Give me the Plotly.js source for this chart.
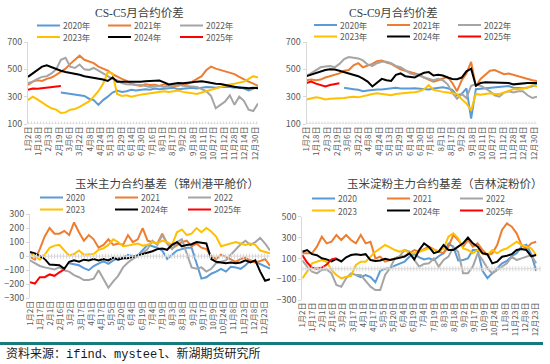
<!DOCTYPE html>
<html><head><meta charset="utf-8">
<script src="https://cdn.plot.ly/plotly-3.0.1.min.js"></script>
<style>html,body{margin:0;padding:0;background:#fff;}#chart{width:550px;height:364px;}</style>
</head><body><div id="chart"></div>
<script>
// ---------- DATA ----------
const titleC5 = "CS-C5月合约价差";
const titleC9 = "CS-C9月合约价差";
const titleJZ = "玉米主力合约基差（锦州港平舱价）";
const titleJL = "玉米淀粉主力合约基差（吉林淀粉价）";
const sourceText = "资料来源：ifind、mysteel、新湖期货研究所";

const namesTop = ["2020年","2021年","2022年","2023年","2024年","2025年"];
const namesBottom = ["2020","2021","2022","2023","2024年","2025年"];

const xLabelsTop = ["1月2日","1月18日","2月3日","2月19日","3月6日","3月22日","4月8日","4月24日","5月13日","5月29日","6月14日","6月30日","7月16日","8月1日","8月17日","9月2日","9月18日","10月11日","10月27日","11月12日","11月28日","12月14日","12月30日"];
const xLabelsBottom = ["1月2日","1月17日","2月1日","2月16日","3月2日","3月17日","4月1日","4月17日","5月5日","5月20日","6月4日","6月19日","7月4日","7月19日","8月3日","8月18日","9月2日","9月17日","10月9日","10月24日","11月8日","11月23日","12月8日","12月23日"];

const yTicksTop = [100,300,500,700];
const yTicksJZ = [-300,-200,-100,0,100,200,300];
const yTicksJL = [-300,-100,100,300,500];

// values sampled every 5 trading days (null = no data)
const c5_2020 = [null,null,null,null,null,null,null,330,325,320,318,310,305,285,275,240,275,300,330,345,335,340,350,345,350,355,350,360,355,360,360,365,355,360,360,365,360,365,370,368,365,370,372,370,365,372,360,345,360,370];
const c5_2021 = [385,410,420,415,430,440,460,480,505,540,570,600,570,555,545,520,505,490,465,445,430,415,395,385,378,390,385,388,378,390,380,378,380,390,395,410,430,450,495,520,505,495,490,480,465,445,425,410,395,380];
const c5_2022 = [400,410,430,445,450,470,500,570,585,520,510,535,500,495,510,490,465,450,430,420,400,390,388,390,385,378,370,375,378,370,375,380,388,380,378,375,370,355,340,305,215,240,265,310,240,300,270,205,195,250];
const c5_2023 = [275,300,280,255,235,215,205,180,185,205,210,225,245,265,300,340,395,480,470,320,305,310,300,310,315,320,325,330,335,340,335,340,345,335,330,320,320,330,340,350,360,370,385,390,395,400,410,430,450,440];
const c5_2024 = [445,470,500,520,530,515,500,490,480,475,470,460,450,445,440,435,425,415,440,410,412,410,410,408,410,412,415,420,418,405,390,395,400,398,400,405,410,412,408,400,395,392,385,380,372,365,365,362,365,362];
const c5_2025 = [350,360,358,362,362,365,370,378];

const c9_2020 = [null,null,null,null,null,null,null,null,365,358,355,350,340,345,350,352,352,355,360,365,360,358,360,362,358,355,352,360,365,368,362,350,310,320,360,140,355,358,360,362,368,372,375,378,365,362,362,368,375,395];
const c9_2021 = [420,425,420,425,440,450,460,470,490,495,530,545,515,525,540,560,565,550,540,520,500,490,480,470,460,440,425,410,420,430,445,400,340,420,470,555,375,430,460,490,495,480,465,470,460,450,435,425,420,415];
const c9_2022 = [450,470,495,515,520,525,515,540,575,590,585,580,565,535,525,545,555,555,545,525,515,495,470,460,455,440,430,420,430,420,390,330,285,320,290,380,390,380,360,340,310,300,330,340,330,340,340,310,290,300];
const c9_2023 = [280,290,295,290,280,285,285,285,290,295,300,295,305,315,320,325,320,315,310,320,325,330,330,332,340,355,385,350,340,335,330,325,320,280,250,200,320,315,320,325,320,320,330,345,355,355,360,365,385,375];
const c9_2024 = [450,462,470,485,495,500,498,490,480,470,460,450,432,410,375,405,430,420,415,460,470,450,445,440,460,475,480,455,460,455,440,430,428,440,485,505,380,400,405,405,400,405,405,400,390,395,400,400,400,400];
const c9_2025 = [400,410,395,385,375,385,390,398];

const jz_2020 = [null,null,null,null,null,null,null,null,-50,-60,-65,-85,-100,-70,-50,-35,-55,-30,-15,-10,10,0,5,40,80,70,60,40,-20,10,40,50,60,60,-50,-160,-150,-125,-110,-90,-110,-75,-80,-90,-65,-30,-40,-55,-75,-88];
const jz_2021 = [-5,-25,50,140,200,160,160,180,150,240,170,110,150,120,60,80,120,80,90,80,150,100,120,200,110,100,90,160,90,55,80,100,110,70,90,60,50,0,-20,10,-5,-20,-40,-20,-10,-35,-45,-35,-20,-70];
const jz_2022 = [-30,-50,-70,-80,-90,-95,-80,-100,-110,-135,-150,-170,-170,-160,-100,-160,-225,-180,-140,-80,-45,-20,0,20,50,110,80,150,90,50,100,120,20,-80,-90,-80,-110,-90,-50,-40,-30,10,50,85,110,80,100,130,90,40];
const jz_2023 = [20,-5,-25,10,60,75,80,40,5,15,40,10,10,15,45,55,80,120,100,70,75,80,90,75,80,100,90,110,100,80,170,190,150,160,200,170,200,175,140,70,80,95,100,90,80,90,80,40,30,20];
const jz_2024 = [30,20,0,-20,-60,-60,-65,-90,-40,-30,-40,-25,-30,-20,-30,-20,-30,-10,-25,-15,-15,-5,5,15,20,35,50,55,45,80,100,70,80,85,100,95,90,-20,-40,-45,-50,-45,-50,-45,-30,-45,-30,-110,-175,-165];
const jz_2025 = [-185,-195,-150,-150,-130,-140,-115,-95];

const jl_2020 = [null,null,null,null,null,null,null,null,null,null,null,-60,-80,-60,-80,-130,-20,0,5,30,50,68,116,140,110,90,100,84,120,150,240,212,80,84,100,180,180,-20,-90,-44,4,52,75,120,150,212,230,140,-20];
const jl_2021 = [150,148,148,212,308,244,260,324,276,324,276,244,324,244,260,100,116,68,84,100,116,122,148,180,164,186,212,186,164,148,212,324,276,212,276,212,244,180,132,148,228,372,436,404,340,228,196,244,260];
const jl_2022 = [80,20,-28,-44,-12,-6,-44,-156,-172,-92,-44,-60,-60,-114,-172,-204,-204,-60,4,100,122,180,164,84,20,46,52,100,20,84,116,206,164,-44,-44,20,148,84,4,-44,-12,20,52,116,84,100,116,132,52];
const jl_2023 = [-92,-28,52,68,84,68,-12,-60,-92,-76,-70,36,68,68,116,164,196,228,206,180,164,180,148,148,164,180,196,180,164,196,308,340,292,196,180,148,180,148,132,180,148,180,196,228,260,228,212,196,132];
const jl_2024 = [164,180,140,130,100,90,70,95,70,110,132,140,132,140,84,75,80,95,85,95,110,116,148,90,180,244,210,150,165,228,180,180,212,244,300,244,212,148,140,52,68,116,125,140,180,190,180,120,132];
const jl_2025 = [132,60,10,0,10,40,90,100];

// ---------- STYLE ----------
const W = 550, H = 364;
const STEP = 5; // trading days between samples
const colors = ["#5B9BD5","#ED7D31","#A5A5A5","#FFC000","#000000","#FF0000"];
const FONT = "'Noto Sans CJK SC', 'Noto Sans', sans-serif";
const px = v => v / W, py = v => 1 - v / H;

const panels = [
  {series:[c5_2020,c5_2021,c5_2022,c5_2023,c5_2024,c5_2025], names:namesTop, xa:'x', ya:'y',
   xdom:[28,258], ydom:[124,42], yr:[100,700], yt:yTicksTop, labels:xLabelsTop, tstep:11, base:100,
   title:titleC5, tx:140, ty:13, serif:true, legX:[37,108,180], legY:[25.5,37]},
  {series:[c9_2020,c9_2021,c9_2022,c9_2023,c9_2024,c9_2025], names:namesTop, xa:'x2', ya:'y2',
   xdom:[306.5,537], ydom:[124,42], yr:[100,700], yt:yTicksTop, labels:xLabelsTop, tstep:11, base:100,
   title:titleC9, tx:393, ty:13, serif:true, legX:[314,387,458], legY:[25,36.5]},
  {series:[jz_2020,jz_2021,jz_2022,jz_2023,jz_2024,jz_2025], names:namesBottom, xa:'x3', ya:'y3',
   xdom:[30,270], ydom:[298.3,214], yr:[-300,300], yt:yTicksJZ, labels:xLabelsBottom, tstep:10.4, base:0,
   title:titleJZ, tx:167, ty:183, serif:false, legX:[40,115,188], legY:[197.5,209.5]},
  {series:[jl_2020,jl_2021,jl_2022,jl_2023,jl_2024,jl_2025], names:namesBottom, xa:'x4', ya:'y4',
   xdom:[302.3,541], ydom:[300,216.7], yr:[-300,500], yt:yTicksJL, labels:xLabelsBottom, tstep:10.4, base:0,
   title:titleJL, tx:445, ty:183, serif:false, legX:[312,387,460], legY:[198.5,210.5]}
];

const traces = [], shapes = [], annotations = [];
const layout = {
  width: W, height: H, margin:{l:0,r:0,t:0,b:0},
  paper_bgcolor:'#fff', plot_bgcolor:'rgba(0,0,0,0)',
  showlegend:false, font:{family:FONT, color:'#595959'}
};

panels.forEach((p, pi) => {
  const n = pi === 0 ? '' : String(pi+1);
  p.series.forEach((vals, si) => {
    traces.push({
      type:'scatter', mode:'lines', name:p.names[si],
      x: vals.map((_, i) => i * STEP), y: vals,
      xaxis:p.xa, yaxis:p.ya,
      line:{color:colors[si], width:2}, hoverinfo:'skip'
    });
  });
  layout['xaxis'+n] = {
    domain:[px(p.xdom[0]), px(p.xdom[1])], range:[0,245], anchor:p.ya,
    tickvals:p.labels.map((_, i) => i * p.tstep), ticktext:p.labels,
    tickangle:-90, tickfont:{size:8, color:'#595959', family:FONT},
    showgrid:false, zeroline:false, showline:false, ticks:'', fixedrange:true
  };
  layout['yaxis'+n] = {
    domain:[py(p.ydom[0]), py(p.ydom[1])], range:p.yr, anchor:p.xa,
    tickvals:p.yt, tickfont:{size:9, color:'#595959', family:FONT},
    showgrid:false, zeroline:false, showline:true, linecolor:'#d9d9d9', linewidth:1,
    ticks:'outside', ticklen:3, tickcolor:'#d9d9d9', fixedrange:true
  };
  // category axis line with dense tick marks
  shapes.push({type:'line', xref:p.xa, yref:p.ya, x0:0, x1:245, y0:p.base, y1:p.base,
    line:{color:'#d9d9d9', width:1}});
  shapes.push({type:'line', xref:p.xa, yref:p.ya, x0:0, x1:245, y0:p.base, y1:p.base,
    line:{color:'#d9d9d9', width:5, dash:'1px,2px'}});
  // title
  annotations.push({text:p.title, xref:'paper', yref:'paper', x:px(p.tx), y:py(p.ty),
    xanchor:'center', yanchor:'middle', showarrow:false,
    font:{size:11.5, color:'#404040', family: p.serif ? "'Liberation Serif', 'Noto Sans CJK SC', serif" : FONT}});
  // legend
  p.names.forEach((nm, si) => {
    const col = si % 3, row = Math.floor(si / 3);
    const lx = p.legX[col], ly = p.legY[row];
    shapes.push({type:'line', xref:'paper', yref:'paper', x0:px(lx), x1:px(lx+23), y0:py(ly), y1:py(ly),
      line:{color:colors[si], width:2}});
    annotations.push({text:nm, xref:'paper', yref:'paper', x:px(lx+25), y:py(ly),
      xanchor:'left', yanchor:'middle', showarrow:false, borderpad:0,
      font:{size:8.5, color:'#595959', family:FONT}});
  });
});

// footer
shapes.push({type:'line', xref:'paper', yref:'paper', x0:0, x1:px(543), y0:py(343.5), y1:py(343.5),
  line:{color:'#167A7A', width:3}});
annotations.push({text:sourceText, xref:'paper', yref:'paper', x:px(4), y:py(353.5),
  xanchor:'left', yanchor:'middle', showarrow:false,
  font:{size:12, color:'#1a1a1a', family:"'Liberation Mono', 'Noto Sans CJK SC', monospace"}});

layout.shapes = shapes;
layout.annotations = annotations;

Plotly.newPlot('chart', traces, layout, {displayModeBar:false, staticPlot:true});
</script>
</body></html>
